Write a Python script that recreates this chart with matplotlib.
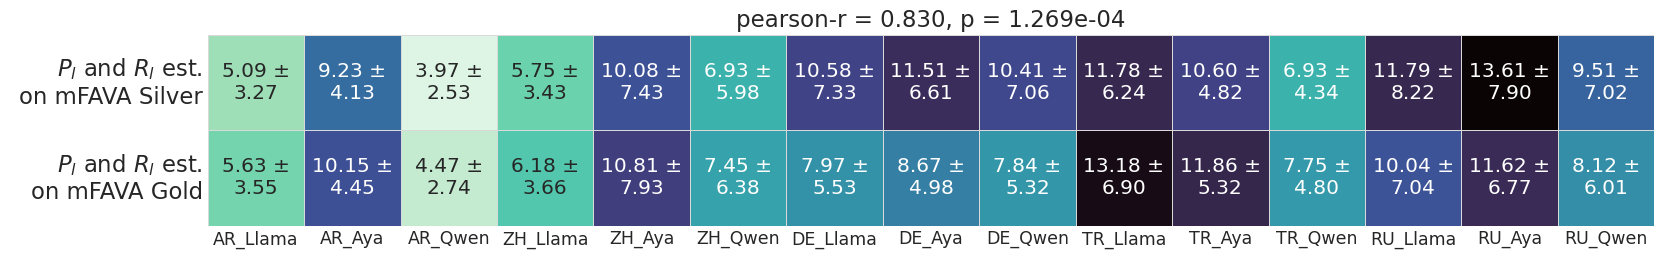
import numpy as np
import matplotlib
matplotlib.use("Agg")
import matplotlib.pyplot as plt
import seaborn as sns

columns = ["AR_Llama", "AR_Aya", "AR_Qwen", "ZH_Llama", "ZH_Aya", "ZH_Qwen",
           "DE_Llama", "DE_Aya", "DE_Qwen", "TR_Llama", "TR_Aya", "TR_Qwen",
           "RU_Llama", "RU_Aya", "RU_Qwen"]
rows = ["$P_l$ and $R_l$ est.\non mFAVA Silver", "$P_l$ and $R_l$ est.\non mFAVA Gold"]

silver_mean = [5.09, 9.23, 3.97, 5.75, 10.08, 6.93, 10.58, 11.51, 10.41, 11.78, 10.60, 6.93, 11.79, 13.61, 9.51]
silver_std = [3.27, 4.13, 2.53, 3.43, 7.43, 5.98, 7.33, 6.61, 7.06, 6.24, 4.82, 4.34, 8.22, 7.90, 7.02]
gold_mean = [5.63, 10.15, 4.47, 6.18, 10.81, 7.45, 7.97, 8.67, 7.84, 13.18, 11.86, 7.75, 10.04, 11.62, 8.12]
gold_std = [3.55, 4.45, 2.74, 3.66, 7.93, 6.38, 5.53, 4.98, 5.32, 6.90, 5.32, 4.80, 7.04, 6.77, 6.01]

title = "pearson-r = 0.830, p = 1.269e-04"

means = np.array([silver_mean, gold_mean])
stds = np.array([silver_std, gold_std])
labels = np.array([[f"{m:.2f} ±\n{s:.2f}" for m, s in zip(mr, sr)]
                   for mr, sr in zip(means, stds)])

sns.set_theme(style="white")
plt.rcParams['font.family'] = ['DejaVu Sans']

fig, ax = plt.subplots(figsize=(16.61, 2.62), dpi=100)
sns.heatmap(means, annot=labels, fmt="", cmap="mako_r", cbar=False,
            linewidths=0.5, linecolor="#d9d9d9",
            xticklabels=columns, yticklabels=rows,
            annot_kws={"fontsize": 14.5}, ax=ax)
ax.set_title(title, fontsize=16.5)
ax.tick_params(axis="x", labelsize=12.5, rotation=0, length=0)
ax.tick_params(axis="y", labelsize=16.4, rotation=0, length=0)
for t in ax.get_yticklabels():
    t.set_horizontalalignment("right")
fig.subplots_adjust(left=0.125, right=0.996, top=0.866, bottom=0.139)
fig.savefig("out.png", dpi=100)
